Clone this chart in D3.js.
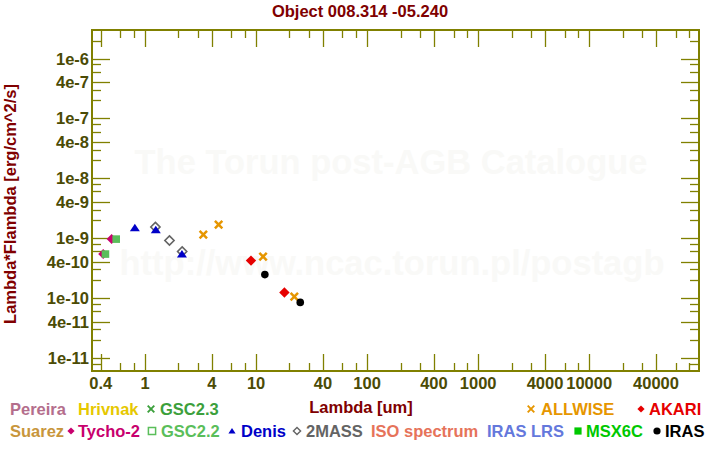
<!DOCTYPE html>
<html><head><meta charset="utf-8">
<script src="https://cdn.jsdelivr.net/npm/d3@7"></script>
<style>
body{margin:0;background:#fff}
svg{display:block}
text{font-family:"Liberation Sans",Arial,Helvetica,sans-serif;font-weight:bold}
</style>
</head><body>
<svg id="chart" width="720" height="450"></svg>
<script>
// ---------- data ----------
const title = "Object 008.314 -05.240";
const xTitle = "Lambda [um]";
const yTitle = "Lambda*Flambda [erg/cm^2/s]";
const watermark1 = "The Torun post-AGB Catalogue";
const watermark2 = "http://www.ncac.torun.pl/postagb";
const xTickLabels = [0.4, 1, 4, 10, 40, 100, 400, 1000, 4000, 10000, 40000];
const yTickLabels = [1e-11, 4e-11, 1e-10, 4e-10, 1e-9, 4e-9, 1e-8, 4e-8, 1e-7, 4e-7, 1e-6];
const minorMultipliers = [2, 3, 6, 8];

const tycho2  = [[0.42, 5.4e-10], [0.50, 9.6e-10]];
const gsc22   = [[0.44, 5.4e-10], [0.55, 9.6e-10]];
const mass2   = [[1.24, 1.53e-9], [1.66, 9.1e-10], [2.16, 5.96e-10]];
const denis   = [[0.81, 1.48e-9], [1.25, 1.37e-9], [2.15, 5.4e-10]];
const allwise = [[3.35, 1.14e-9], [4.6, 1.68e-9], [11.56, 4.9e-10], [22.1, 1.05e-10]];
const akari   = [[9, 4.2e-10], [18, 1.23e-10]];
const iras    = [[12, 2.45e-10], [25, 8.4e-11]];

const legendRow1 = ["Pereira", "Hrivnak", "GSC2.3", "ALLWISE", "AKARI"];
const legendRow2 = ["Suarez", "Tycho-2", "GSC2.2", "Denis", "2MASS", "ISO spectrum", "IRAS LRS", "MSX6C", "IRAS"];

// ---------- styles ----------
const colors = {
  "Pereira": "#b46e8c", "Hrivnak": "#e6c800", "GSC2.3": "#3ca03c",
  "ALLWISE": "#e69600", "AKARI": "#e60000",
  "Suarez": "#c8963c", "Tycho-2": "#c8006e", "GSC2.2": "#5abe5a",
  "Denis": "#0000c8", "2MASS": "#646464", "ISO spectrum": "#e6735a",
  "IRAS LRS": "#6478dc", "MSX6C": "#00c800", "IRAS": "#000000"
};
const symbols = {
  "GSC2.3": "cross", "ALLWISE": "cross", "AKARI": "diamond", "Tycho-2": "diamond",
  "GSC2.2": "hsquare", "Denis": "triangle", "2MASS": "hdiamond", "MSX6C": "square", "IRAS": "circle"
};
// legend layout: [text x, marker x]
const legendLayout1 = {"Pereira":[10], "Hrivnak":[78], "GSC2.3":[160,151], "ALLWISE":[541,531], "AKARI":[649,641]};
const legendLayout2 = {"Suarez":[10], "Tycho-2":[78,71], "GSC2.2":[161,152], "Denis":[241,232], "2MASS":[306,297],
  "ISO spectrum":[371], "IRAS LRS":[487], "MSX6C":[586,578], "IRAS":[665,657]};

const L = 92, R = 699, T = 30, B = 371;
const axisColor = "#808000", tickTextColor = "#4b4b05", titleColor = "#800000";
const fs = 16.5;

const svg = d3.select("#chart");
const x = d3.scaleLog().domain([0.333, 97500]).range([L, R]);
const y = d3.scaleLog().domain([6e-12, 3e-6]).range([B, T]);

// watermark
svg.append("text").attr("x", 391).attr("y", 174).attr("text-anchor", "middle")
  .attr("font-size", 34.5).attr("fill", "#f9f9f7").text(watermark1);
svg.append("text").attr("x", 392).attr("y", 275).attr("text-anchor", "middle")
  .attr("font-size", 34.5).attr("fill", "#f9f9f7").text(watermark2);

// title
svg.append("text").attr("x", 360).attr("y", 17).attr("text-anchor", "middle")
  .attr("font-size", fs).attr("fill", titleColor).text(title);

// ticks
function buildTicks(d0, d1, labels) {
  const out = [];
  const lo = Math.floor(Math.log10(d0)), hi = Math.ceil(Math.log10(d1));
  for (let n = lo; n <= hi; n++) {
    for (const m of [1, ...minorMultipliers, 4]) {
      const v = m * Math.pow(10, n);
      if (v > d0 * 1.001 && v < d1 * 0.999) {
        const isMajor = labels.some(l => Math.abs(l / v - 1) < 1e-6);
        out.push({v, major: isMajor});
      }
    }
  }
  return out;
}
const xTicks = buildTicks(x.domain()[0], x.domain()[1], xTickLabels);
const yTicks = buildTicks(y.domain()[0], y.domain()[1], yTickLabels);

const g = svg.append("g").attr("stroke", axisColor).attr("stroke-width", 1.3).attr("fill", "none");
xTicks.forEach(t => {
  const px = Math.round(x(t.v)) + 0.5, len = t.major ? 17 : 8;
  g.append("line").attr("x1", px).attr("x2", px).attr("y1", B).attr("y2", B - len);
  g.append("line").attr("x1", px).attr("x2", px).attr("y1", T).attr("y2", T + len);
});
yTicks.forEach(t => {
  const py = Math.round(y(t.v)) + 0.5, len = t.major ? 18 : 9;
  g.append("line").attr("y1", py).attr("y2", py).attr("x1", L).attr("x2", L + len);
  g.append("line").attr("y1", py).attr("y2", py).attr("x1", R).attr("x2", R - len);
});
g.append("rect").attr("x", L).attr("y", T).attr("width", R - L).attr("height", B - T).attr("stroke-width", 2);

// tick labels
svg.append("g").selectAll("text").data(xTickLabels).join("text")
  .attr("x", d => x(d)).attr("y", 389).attr("text-anchor", "middle")
  .attr("font-size", fs).attr("fill", tickTextColor).text(d => String(d));
function fmtE(v) {
  const e = Math.floor(Math.log10(v) + 1e-9);
  const m = Math.round(v / Math.pow(10, e));
  return m + "e" + e;
}
svg.append("g").selectAll("text").data(yTickLabels).join("text")
  .attr("x", 89).attr("y", d => y(d) + 6).attr("text-anchor", "end")
  .attr("font-size", fs).attr("fill", tickTextColor).text(fmtE);

// axis titles
svg.append("text").attr("x", 361).attr("y", 413).attr("text-anchor", "middle")
  .attr("font-size", fs).attr("fill", titleColor).text(xTitle);
svg.append("text").attr("transform", "translate(16,204) rotate(-90)").attr("text-anchor", "middle")
  .attr("font-size", fs).attr("fill", titleColor).text(yTitle);

// marker paths
function markerPath(kind, s) {
  switch (kind) {
    case "diamond": case "hdiamond": return `M0,${-s}L${s},0L0,${s}L${-s},0Z`;
    case "triangle": return `M0,${-s*0.8}L${s},${s*0.7}L${-s},${s*0.7}Z`;
    case "cross": return `M${-s},${-s}L${s},${s}M${-s},${s}L${s},${-s}`;
    case "square": case "hsquare": return `M${-s},${-s}H${s}V${s}H${-s}Z`;
    case "circle": return d3.symbol(d3.symbolCircle, Math.PI * s * s)();
  }
}
function drawMarker(sel, kind, color, s, sw) {
  const p = sel.append("path").attr("d", markerPath(kind, s));
  if (kind === "cross") p.attr("fill", "none").attr("stroke", color).attr("stroke-width", sw || 2.5);
  else if (kind === "hdiamond") p.attr("fill", "none").attr("stroke", color).attr("stroke-width", sw || 1.6);
  else if (kind === "hsquare" && sw) p.attr("fill", "none").attr("stroke", color).attr("stroke-width", sw);
  else p.attr("fill", color);
  return p;
}
function plotSeries(data, name, s, sw) {
  const grp = svg.append("g");
  data.forEach(d => {
    const m = grp.append("g").attr("transform", `translate(${x(d[0])},${y(d[1])})`);
    drawMarker(m, symbols[name], colors[name], s, sw);
  });
}
plotSeries(tycho2, "Tycho-2", 5);
plotSeries(gsc22, "GSC2.2", 3.8);
plotSeries(mass2, "2MASS", 4.6);
plotSeries(denis, "Denis", 5);
plotSeries(allwise, "ALLWISE", 3.7);
plotSeries(akari, "AKARI", 5.2);
plotSeries(iras, "IRAS", 3.8);

// legend
function drawLegendRow(names, layout, baseline) {
  names.forEach(n => {
    const [tx, mx] = layout[n];
    if (mx !== undefined) {
      const m = svg.append("g").attr("transform", `translate(${mx},${baseline - 6})`);
      const k = symbols[n];
      drawMarker(m, k, colors[n], k === "cross" ? 3.3 : 3.6, k === "cross" ? 1.9 : (k === "hsquare" ? 1.5 : 1.4));
    }
    svg.append("text").attr("x", tx).attr("y", baseline).attr("font-size", fs)
      .attr("fill", colors[n]).text(n);
  });
}
drawLegendRow(legendRow1, legendLayout1, 415);
drawLegendRow(legendRow2, legendLayout2, 437);
</script>
</body></html>
